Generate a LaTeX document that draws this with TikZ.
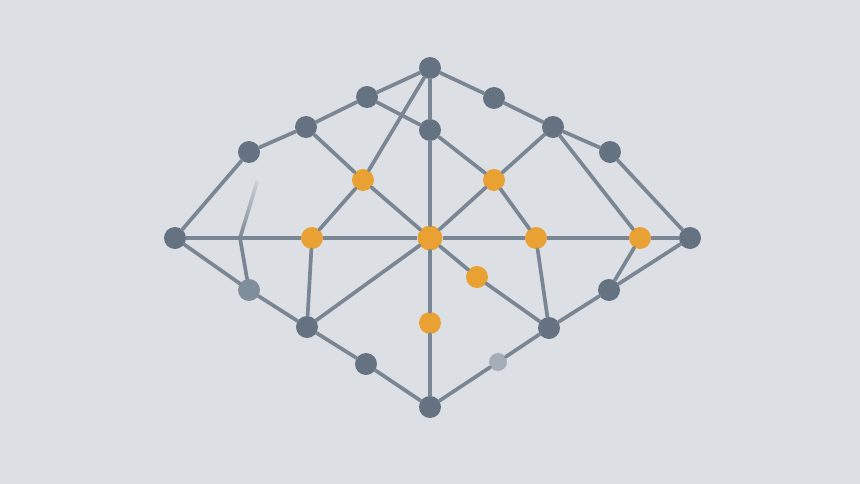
\documentclass[tikz,border=0pt]{standalone}
\usetikzlibrary{fadings}
\definecolor{bgcol}{RGB}{220,223,228}
\definecolor{wire}{RGB}{122,134,147}
\definecolor{slate}{RGB}{100,114,129}
\definecolor{paleslate}{RGB}{128,142,155}
\definecolor{amber}{RGB}{232,161,50}
\tikzfading[name=fadetop, top color=transparent!85, middle color=transparent!25, bottom color=transparent!0]
\begin{document}
\begin{tikzpicture}[x=0.02cm, y=-0.02cm,
	hub/.style={circle, fill=slate, inner sep=0pt, minimum size=0.44cm},
	palehub/.style={circle, fill=paleslate, inner sep=0pt, minimum size=0.44cm},
	ghost/.style={circle, fill=paleslate!60!bgcol, inner sep=0pt, minimum size=0.36cm},
	core/.style={circle, fill=amber, inner sep=0pt, minimum size=0.44cm},
	wirepath/.style={draw=wire, line width=2.1pt, line cap=round}]
			%%%%% START %%%%%
			
			\fill[bgcol] (0, 0) rectangle (860, 484);
			
			% outer ring
			\node[hub] (top) at (430, 68) {};
			\node[hub] (nw1) at (367, 97) {};
			\node[hub] (nw2) at (306, 127) {};
			\node[hub] (nw3) at (249, 152) {};
			\node[hub] (west) at (175, 238) {};
			\node[hub] (ne1) at (494, 98) {};
			\node[hub] (ne2) at (553, 127) {};
			\node[hub] (ne3) at (610, 152) {};
			\node[hub] (east) at (690, 238) {};
			\node[palehub] (sw1) at (249, 290) {};
			\node[hub] (sw2) at (307, 327) {};
			\node[hub] (sw3) at (366, 364) {};
			\node[hub] (bottom) at (430, 407) {};
			\node[hub] (se1) at (609, 290) {};
			\node[hub] (se2) at (549, 328) {};
			\node[ghost] (se3) at (498, 362) {};
			\node[hub] (mid) at (430, 130) {};
			
			% inner nodes
			\node[core] (in1) at (363, 180) {};
			\node[core] (in2) at (494, 180) {};
			\node[core] (in3) at (312, 238) {};
			\node[core, minimum size=0.5cm] (centre) at (430, 238) {};
			\node[core] (in4) at (536, 238) {};
			\node[core] (in5) at (640, 238) {};
			\node[core] (in6) at (477, 277) {};
			\node[core] (in7) at (430, 323) {};
			
			\coordinate (kink) at (240, 238);
			\coordinate (stub) at (257, 182);
			
			% upper edges
			\draw[wirepath] (top) -- (nw1) -- (nw2) -- (nw3) -- (west);
			\draw[wirepath] (top) -- (ne1) -- (ne2) -- (ne3) -- (east);
			\draw[wirepath] (nw1) -- (mid);
			\draw[wirepath] (top) -- (mid) -- (centre);
			\draw[wirepath] (top) -- (in1) -- (in3);
			\draw[wirepath] (nw2) -- (in1) -- (centre);
			\draw[wirepath] (mid) -- (in2) -- (in4);
			\draw[wirepath] (ne2) -- (in2) -- (centre);
			\draw[wirepath] (ne2) -- (in5);
			
			% horizontal
			\draw[wirepath, line cap=butt] (west) -- (kink) -- (in3) -- (centre) -- (in4) -- (in5) -- (east);
			\draw[wirepath, path fading=fadetop] (kink) -- (stub);
			
			% lower edges
			\draw[wirepath] (kink) -- (sw1);
			\draw[wirepath] (west) -- (sw1) -- (sw2) -- (sw3) -- (bottom);
			\draw[wirepath] (sw2) -- (in3);
			\draw[wirepath] (sw2) -- (centre);
			\draw[wirepath] (centre) -- (in7) -- (bottom);
			\draw[wirepath] (centre) -- (in6) -- (se2);
			\draw[wirepath] (in4) -- (se2);
			\draw[wirepath] (in5) -- (se1);
			\draw[wirepath] (east) -- (se1) -- (se2) -- (se3) -- (bottom);
			
			%%%%% END %%%%%
\end{tikzpicture}
\end{document}
